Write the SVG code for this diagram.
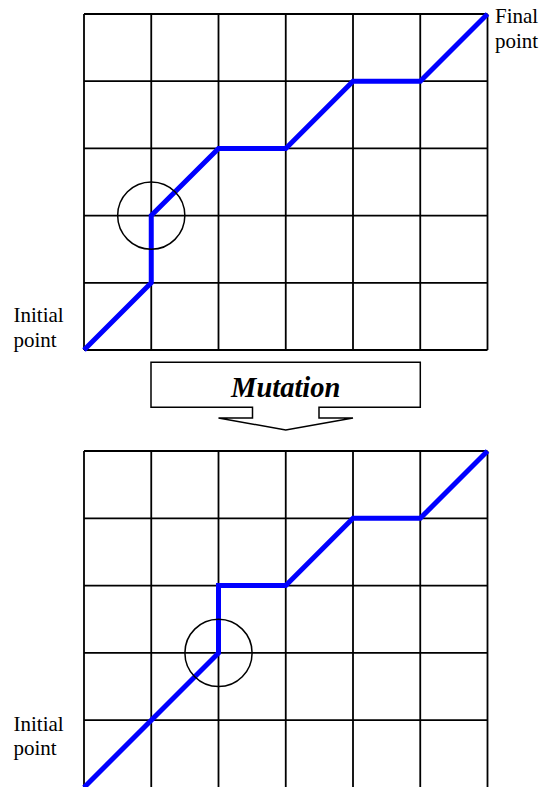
<svg xmlns="http://www.w3.org/2000/svg" width="541" height="787" viewBox="0 0 541 787">
<style>
.grid{stroke:#000;stroke-width:1.8;fill:none}
.path{stroke:#0000ff;stroke-width:5;fill:none;stroke-linejoin:miter;stroke-linecap:butt}
.circ{stroke:#000;stroke-width:1.5;fill:none}
.lbl{font-family:"Liberation Serif","Times New Roman",serif;font-size:21px;fill:#000}
.mut{font-family:"Liberation Serif","Times New Roman",serif;font-size:28.5px;font-weight:bold;font-style:italic;fill:#000}
</style>
<rect width="541" height="787" fill="#fff"/>
<g id="grid-top" class="grid">
<path d="M84,14V350M151.25,14V350M218.5,14V350M285.75,14V350M353,14V350M420.25,14V350M487.5,14V350"/>
<path d="M84,14H487.5M84,81.2H487.5M84,148.4H487.5M84,215.6H487.5M84,282.8H487.5M84,350H487.5"/>
</g>
<g id="grid-bottom" class="grid">
<path d="M84,451V788M151.25,451V788M218.5,451V788M285.75,451V788M353,451V788M420.25,451V788M487.5,451V788"/>
<path d="M84,451H487.5M84,518.3H487.5M84,585.6H487.5M84,652.9H487.5M84,720.2H487.5"/>
</g>
<g id="connectors">
<polyline id="path-top" class="path" points="84,350 151.25,282.8 151.25,215.6 218.5,148.4 285.75,148.4 353,81.2 420.25,81.2 487.5,14"/>
<polyline id="path-bottom" class="path" points="84,787.5 151.25,720.2 218.5,652.9 218.5,585.6 285.75,585.6 353,518.3 420.25,518.3 487.5,451"/>
</g>
<g id="circle-top"><circle class="circ" cx="151.25" cy="215.6" r="33.6"/></g>
<g id="circle-bottom"><circle class="circ" cx="218.5" cy="652.9" r="33.6"/></g>
<g id="label-final"><text class="lbl" x="495" y="23.3">Final</text><text class="lbl" x="495" y="47.5">point</text></g>
<g id="label-initial-top"><text class="lbl" x="13.5" y="321.7">Initial</text><text class="lbl" x="13.5" y="346.5">point</text></g>
<g id="label-initial-bottom"><text class="lbl" x="13.5" y="730.7">Initial</text><text class="lbl" x="13.5" y="755">point</text></g>
<g id="mutation-arrow">
<path d="M151,362.3H420.3V407.3H319V418H353L285.75,430L218.5,418H252.5V407.3H151Z" fill="#fff" stroke="#000" stroke-width="1.5" stroke-linejoin="miter"/>
<text class="mut" x="285.75" y="396.5" text-anchor="middle">Mutation</text>
</g>
</svg>
